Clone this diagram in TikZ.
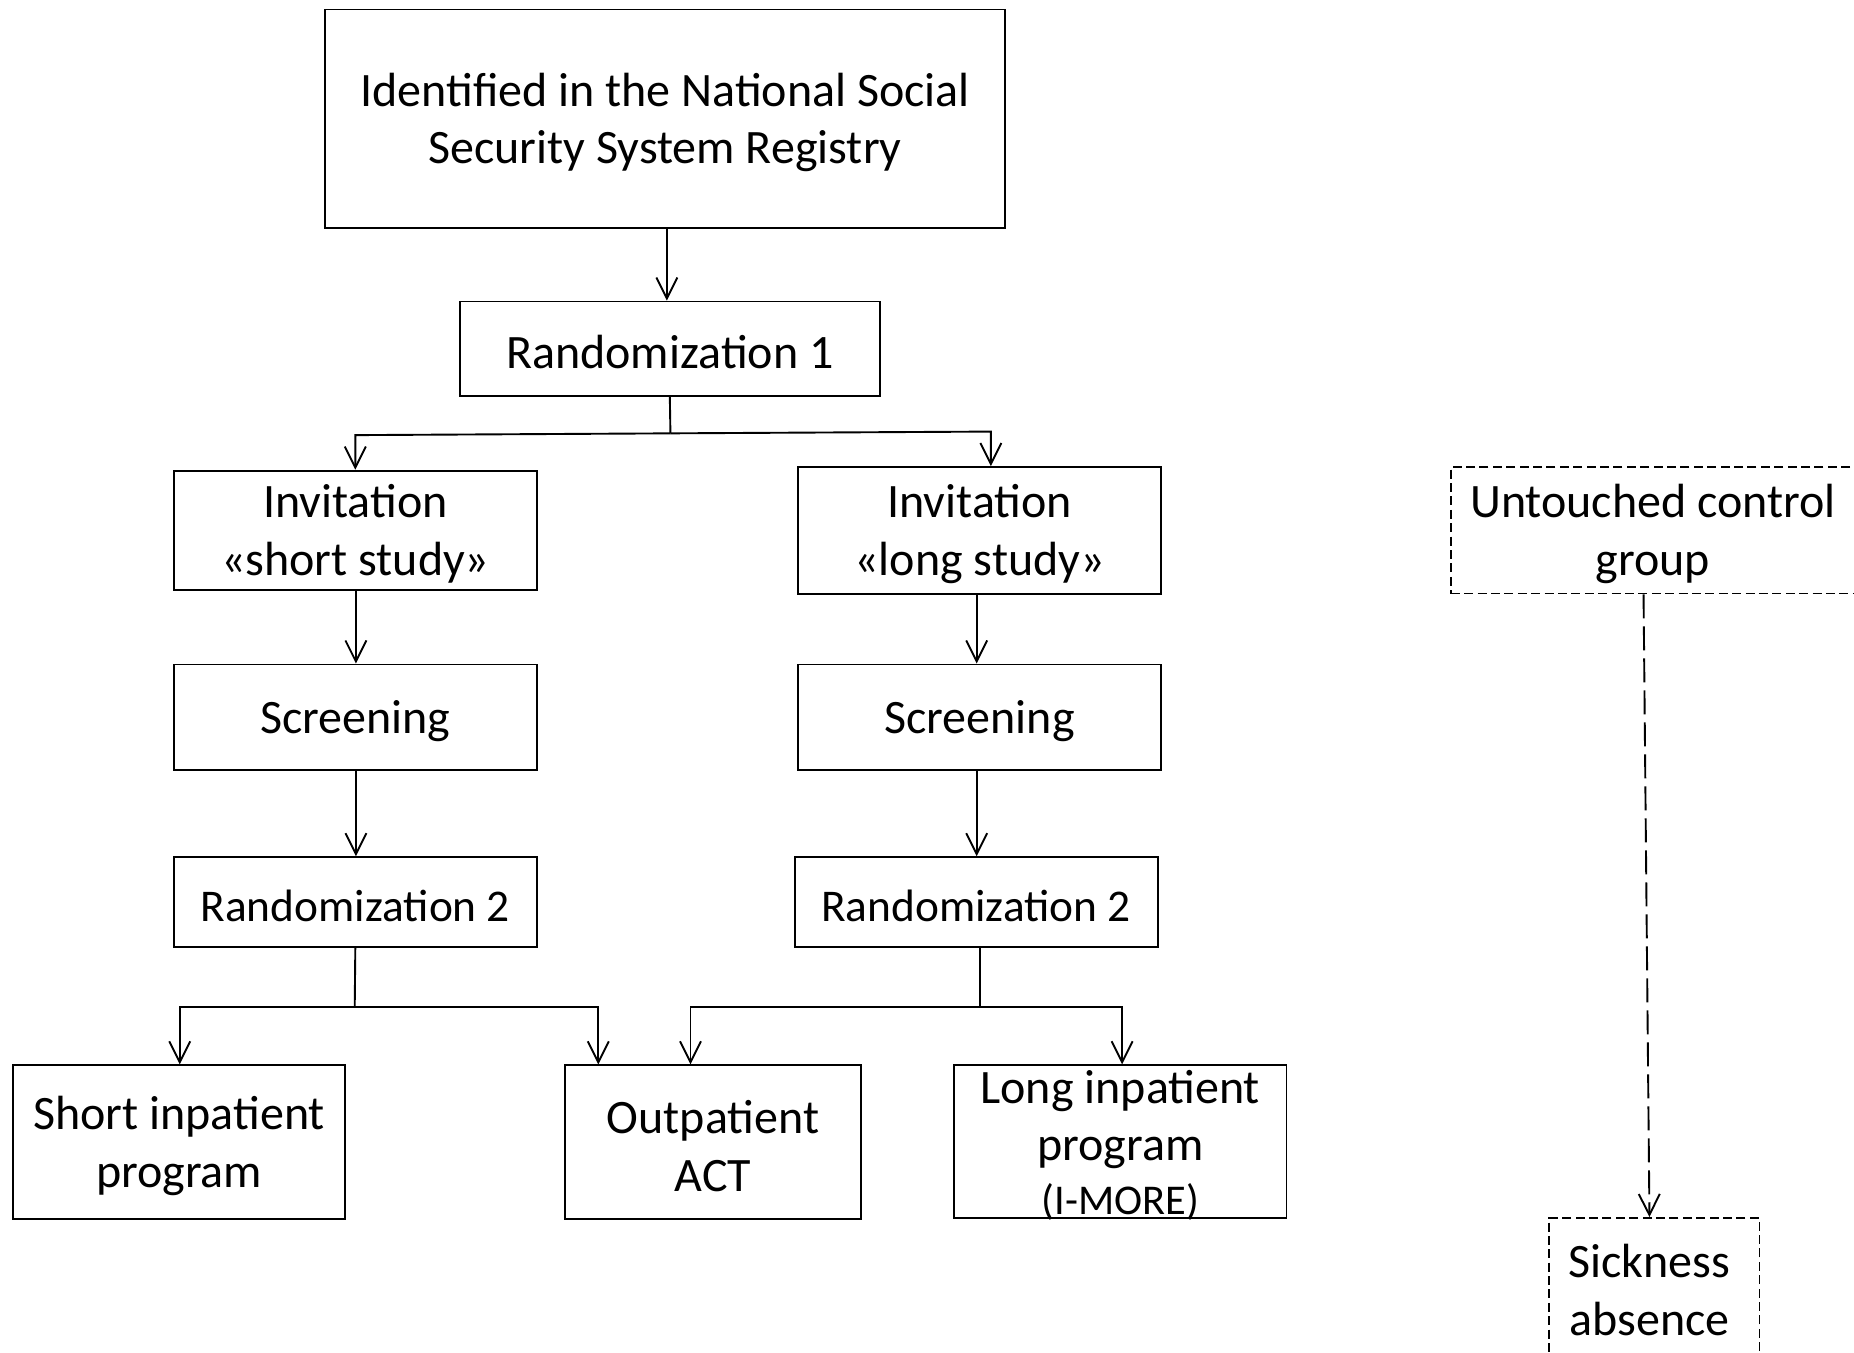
\documentclass[tikz,border=0pt]{standalone}
\usepackage{fontspec}
\setmainfont{Carlito}
\usetikzlibrary{arrows.meta}
\begin{document}
\begin{tikzpicture}[x=0.5913pt,y=-0.5913pt,
  lbl/.style={font=\fontsize{24}{28.9}\selectfont},
  sz/.style 2 args={minimum width=#1*0.5913pt, minimum height=#2*0.5913pt},
  box/.style={draw=black, line width=0.95pt, rectangle, inner sep=0pt},
  dbox/.style={box, line width=0.8pt, dash pattern=on 4.5pt off 2.2pt},
  txt/.style={align=center, inner sep=0pt, yshift=-1.8pt, lbl},
  smalltxt/.style={txt, font=\fontsize{22.7}{27.5}\selectfont},
  link/.style={line width=0.95pt},
  arr/.style={link, -{Straight Barb[length=10.5pt,width=10.5pt,line width=0.95pt]}},
  darr/.style={arr, dash pattern=on 12pt off 4pt},
]
\useasboundingbox (0,0) rectangle (1568,1144);
\clip (0,0) rectangle (1568,1144);

% boxes, each with its centred caption
\node[box, sz={575}{185}, label={[txt]center:{Identified in the National Social\\Security System Registry}}] (top) at (562.5,100.5) {};
\node[box, sz={355}{80}, label={[txt]center:{Randomization 1}}] (r1) at (566.5,295) {};

\node[box, sz={307}{101}, label={[txt]center:{Invitation\\«short study»}}] (invS) at (300.5,448.5) {};
\node[box, sz={307}{107}, label={[txt]center:{Invitation\\«long study»}}] (invL) at (828.5,448.5) {};

\node[box, sz={307}{89}, label={[txt]center:{Screening}}] (scrS) at (300.5,606.5) {};
\node[box, sz={307}{89}, label={[txt]center:{Screening}}] (scrL) at (828.5,606.5) {};

\node[box, sz={307}{76}, label={[smalltxt]center:{Randomization 2}}] (r2S) at (300.5,763) {};
\node[box, sz={307}{76}, label={[smalltxt]center:{Randomization 2}}] (r2L) at (825.5,763) {};

\node[box, sz={281}{130}, label={[txt]center:{Short inpatient\\program}}] (sip) at (151.5,966) {};
\node[box, sz={250}{130}, label={[txt]center:{Outpatient\\ACT}}] (opa) at (603,966) {};
\node[box, sz={281}{129}, label={[txt]center:{Long inpatient\\program\\[-2pt]{\fontsize{21.2}{25}\selectfont (I-MORE)}}}] (lip) at (947.5,965.5) {};

\node[dbox, sz={342}{107}, label={[txt]center:{Untouched control\\group}}] (ucg) at (1398,448.5) {};
\node[dbox, sz={178}{116}, label={[txt, xshift=-2.4pt]center:{Sickness\\absence}}] (sab) at (1399,1088) {};

% first split
\draw[arr] (564,0 |- top.south) -- (564,0 |- r1.north);
\coordinate (j1) at (567,366.5);
\coordinate (j1l) at (300.5,368);
\coordinate (j1r) at (838,365);
\draw[link] (r1.south) -- (j1);
\draw[arr] (j1) -- (j1l) -- (invS.north);
\draw[arr] (j1) -- (j1r) -- (j1r |- invL.north);

% study arms
\draw[arr] (301,0 |- invS.south) -- (301,0 |- scrS.north);
\draw[arr] (826,0 |- invL.south) -- (826,0 |- scrL.north);
\draw[arr] (301,0 |- scrS.south) -- (301,0 |- r2S.north);
\draw[arr] (826,0 |- scrL.south) -- (826,0 |- r2L.north);

% second split, short study
\coordinate (j2) at (300,852);
\coordinate (j2l) at (152,852);
\coordinate (j2r) at (506,852);
\draw[link] (r2S.south) -- (j2);
\draw[arr] (j2) -- (j2l) -- (j2l |- sip.north);
\draw[arr] (j2) -- (j2r) -- (j2r |- opa.north);

% second split, long study
\coordinate (j3) at (829,852);
\coordinate (j3l) at (584,852);
\coordinate (j3r) at (949,852);
\draw[link] (829,0 |- r2L.south) -- (j3);
\draw[arr] (j3) -- (j3l) -- (j3l |- opa.north);
\draw[arr] (j3) -- (j3r) -- (j3r |- lip.north);

% control group
\draw[darr] (1390,0 |- ucg.south) -- (1395,0 |- sab.north);
\end{tikzpicture}
\end{document}
